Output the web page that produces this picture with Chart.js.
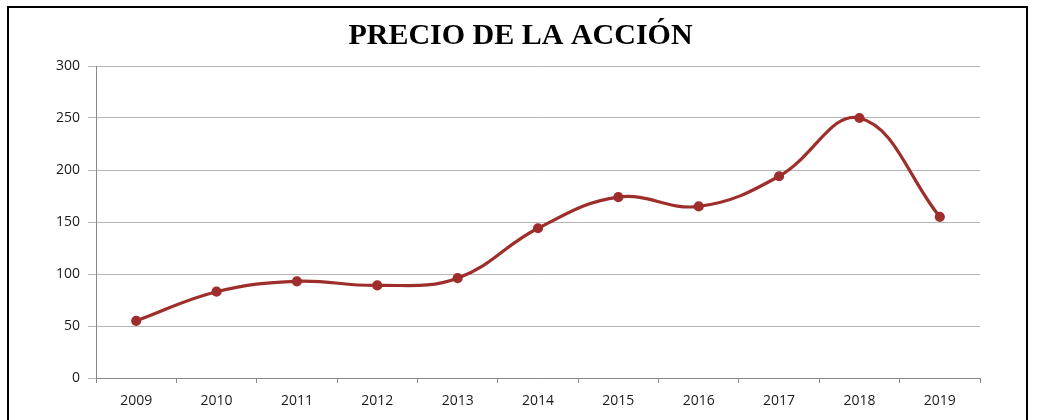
<!DOCTYPE html>
<html>
<head>
<meta charset="utf-8">
<script src="https://cdn.jsdelivr.net/npm/chart.js@4"></script>
<style>
  html, body { margin: 0; padding: 0; background: #fff; overflow: hidden; }
  #frame { position: absolute; left: 7px; top: 6px; width: 1021px; height: 430px; border: 2px solid #000; box-sizing: border-box; }
  #wrap { position: absolute; left: 0; top: 0; width: 1041px; height: 420px; }
</style>
</head>
<body>
<div id="frame"></div>
<div id="wrap"><canvas id="precioChart"></canvas></div>
<script>
const years = ["2009", "2010", "2011", "2012", "2013", "2014", "2015", "2016", "2017", "2018", "2019"];
const precio = [55, 83, 93, 89, 96, 144, 174, 165, 194, 250, 155];
const yTicks = [0, 50, 100, 150, 200, 250, 300];

const lineColor = "#9e2e2c";
const tickFont = { family: "'Open Sans', sans-serif", size: 14 };

new Chart(document.getElementById("precioChart"), {
  type: "line",
  data: {
    labels: years,
    datasets: [
      {
        label: "Precio",
        data: precio,
        borderColor: lineColor,
        backgroundColor: lineColor,
        pointBackgroundColor: lineColor,
        pointBorderColor: lineColor,
        pointRadius: 3.5,
        borderWidth: 3.2,
        tension: 0.4,
      },
    ],
  },
  options: {
    responsive: true,
    maintainAspectRatio: false,
    animation: false,
    layout: { padding: 0 },
    plugins: {
      legend: { display: false },
      tooltip: { enabled: false },
      title: {
        display: true,
        text: "PRECIO DE LA ACCIÓN",
        color: "#000",
        font: { family: "'Liberation Serif', 'Times New Roman', serif", size: 30, weight: "bold", lineHeight: 1.2 },
        padding: { top: 18, bottom: 12 },
      },
    },
    scales: {
      x: {
        offset: true,
        afterFit: (s) => { s.height = 42; },
        grid: { display: true, drawOnChartArea: false, offset: true, color: "#888", tickLength: 5 },
        border: { color: "#888", width: 1 },
        ticks: { color: "#1a1a1a", font: tickFont, padding: 10 },
      },
      y: {
        min: 0,
        max: 300,
        afterFit: (s) => { s.width = 96; },
        afterBuildTicks: (s) => { s.ticks = yTicks.map((v) => ({ value: v })); },
        grid: { color: "#b5b5b5", tickLength: 8 },
        border: { color: "#888", width: 1 },
        ticks: { color: "#1a1a1a", font: tickFont, padding: 8 },
      },
      yRight: {
        position: "right",
        min: 0,
        max: 300,
        afterFit: (s) => { s.width = 61; },
        grid: { display: false },
        border: { display: false },
        ticks: { display: false },
      },
    },
  },
});
</script>
</body>
</html>
